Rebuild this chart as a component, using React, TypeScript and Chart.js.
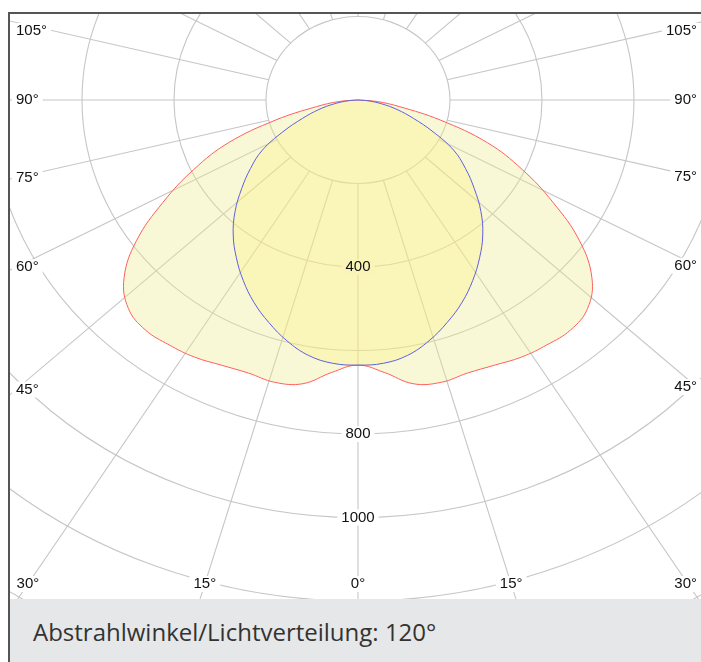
import React, { useEffect, useRef } from 'react';
import { Chart, registerables } from 'chart.js';

Chart.register(...registerables);

// ---- data (cd/klm) ----
const GAMMA = [0, 5, 10, 15, 20, 25, 30, 35, 40, 45, 50, 55, 60, 65, 70, 75, 80, 85, 90];
const C0_C180 = [635, 655, 690, 700, 696, 701, 711, 716, 719, 706, 664, 588, 489, 394, 300, 185, 92, 42, 0];
const C90_C270 = [635, 633, 621, 597, 567, 535, 499, 461, 422, 378, 330, 285, 240, 180, 128, 88, 52, 22, 0];

const RINGS = [200, 400, 600, 800, 1000, 1200, 1400, 1600];
const RING_LABELS = [400, 800, 1000];
const SPOKE_STEP = 15;
const SPOKE_LABELS = [0, 15, 30, 45, 60, 75, 90, 105];
const CAPTION = 'Abstrahlwinkel/Lichtverteilung: 120°';

// ---- layout / style ----
const X_MIN = -756.5;
const X_MAX = 745.7;
const Y_MIN = -1195.2;
const Y_MAX = 206;
const SPOKE_ASPECT = 1.072;
const GRID_COLOR = '#c6c6c6';
const LABEL_COLOR = '#111111';
const LABEL_FONT = '15px "Liberation Sans", Arial, sans-serif';

function curve(values: number[]) {
  const pts: { x: number; y: number }[] = [];
  for (let i = GAMMA.length - 1; i >= 0; i--) {
    const t = (GAMMA[i] * Math.PI) / 180;
    pts.push({ x: -values[i] * Math.sin(t), y: -values[i] * Math.cos(t) });
  }
  for (let i = 1; i < GAMMA.length; i++) {
    const t = (GAMMA[i] * Math.PI) / 180;
    pts.push({ x: values[i] * Math.sin(t), y: -values[i] * Math.cos(t) });
  }
  return pts;
}

function labelBox(ctx: CanvasRenderingContext2D, text: string, x: number, align: string, minX: number, maxX: number) {
  const w = ctx.measureText(text).width;
  let left = align === 'left' ? x : align === 'right' ? x - w : x - w / 2;
  if (left < minX) left = minX;
  if (left + w > maxX) left = maxX - w;
  return { left, w };
}

function geometry(chart: any) {
  const { chartArea: a, scales } = chart;
  const xs = scales.x;
  const ys = scales.y;
  const cx = xs.getPixelForValue(0);
  const cy = ys.getPixelForValue(0);
  const sx = Math.abs(xs.getPixelForValue(100) - cx) / 100;
  const sy = Math.abs(ys.getPixelForValue(-100) - cy) / 100;
  return { a, xs, ys, cx, cy, sx, sy, inL: a.left + 6, inR: a.right - 4, inT: a.top + 17, inB: a.top + 570 };
}

function ringLabels(chart: any) {
  const g = geometry(chart);
  return RING_LABELS.map((v) => ({ text: String(v), x: g.cx, y: g.ys.getPixelForValue(-v), align: 'center' }));
}

const polarGrid = {
  id: 'polarGrid',
  beforeDatasetsDraw(chart: any) {
    const { ctx } = chart;
    const { a, cx, cy, sx, sy, inL, inR, inT, inB } = geometry(chart);
    ctx.save();
    ctx.beginPath();
    ctx.rect(a.left, a.top, a.right - a.left, a.bottom - a.top);
    ctx.clip();
    ctx.strokeStyle = GRID_COLOR;
    ctx.lineWidth = 1.1;
    for (const r of RINGS) {
      ctx.beginPath();
      ctx.ellipse(cx, cy, r * sx, r * sy, 0, 0, Math.PI * 2);
      ctx.stroke();
    }
    const r0 = RINGS[0];
    for (let g = 0; g < 360; g += SPOKE_STEP) {
      const t = (g * Math.PI) / 180;
      const dx = Math.sin(t) * sx * SPOKE_ASPECT;
      const dy = Math.cos(t) * sy;
      const k0 = 1 / Math.hypot(dx / (r0 * sx), dy / (r0 * sy));
      const k1 = 5000;
      ctx.beginPath();
      ctx.moveTo(cx + dx * k0, cy + dy * k0);
      ctx.lineTo(cx + dx * k1, cy + dy * k1);
      ctx.stroke();
    }
    ctx.font = LABEL_FONT;
    ctx.textBaseline = 'middle';
    ctx.textAlign = 'left';
    // angle labels
    for (const g of SPOKE_LABELS) {
      const t = (g * Math.PI) / 180;
      const dx = Math.sin(t) * sx * SPOKE_ASPECT;
      const dy = Math.cos(t) * sy;
      const text = g + '°';
      const sides = g === 0 ? [1] : [-1, 1];
      for (const s of sides) {
        const edge = s < 0 ? inL : inR;
        const tSide = dx > 1e-9 ? Math.abs(edge - cx) / dx : Infinity;
        const ySide = cy + dy * tSide;
        let x: number, y: number, align: string;
        if (ySide <= inB) {
          x = edge; y = Math.max(ySide, inT); align = s < 0 ? 'left' : 'right';
        } else {
          const tb = (inB - cy) / dy;
          x = cx + s * dx * tb; y = inB; align = 'center';
        }
        const { left, w } = labelBox(ctx, text, x, align, inL, inR);
        ctx.fillStyle = '#ffffff';
        ctx.fillRect(left - 4, y - 8, w + 8, 16);
        ctx.fillStyle = LABEL_COLOR;
        ctx.fillText(text, left, y);
      }
    }
    // ring label backgrounds (text drawn after the curves)
    for (const l of ringLabels(chart)) {
      const { left, w } = labelBox(ctx, l.text, l.x, l.align, inL, inR);
      ctx.fillStyle = '#ffffff';
      ctx.fillRect(left - 4, l.y - 8, w + 8, 16);
    }
    ctx.restore();
  },
  afterDatasetsDraw(chart: any) {
    const { ctx } = chart;
    const { inL, inR } = geometry(chart);
    ctx.save();
    ctx.font = LABEL_FONT;
    ctx.textBaseline = 'middle';
    ctx.textAlign = 'left';
    ctx.fillStyle = LABEL_COLOR;
    for (const l of ringLabels(chart)) {
      const { left } = labelBox(ctx, l.text, l.x, l.align, inL, inR);
      ctx.fillText(l.text, left, l.y);
    }
    ctx.restore();
  },
};

export default function App() {
  const ref = useRef<HTMLCanvasElement | null>(null);
  useEffect(() => {
    if (!ref.current) return;
    const chart = new Chart(ref.current, {
      type: 'scatter',
      data: {
        datasets: [
          {
            label: 'C0-C180',
            data: curve(C0_C180),
            showLine: true,
            fill: 'shape',
            borderColor: 'rgb(255, 95, 95)',
            backgroundColor: 'rgba(236, 232, 140, 0.36)',
            borderWidth: 1,
            pointRadius: 0,
            tension: 0.4,
            order: 1,
          },
          {
            label: 'C90-C270',
            data: curve(C90_C270),
            showLine: true,
            fill: 'shape',
            borderColor: 'rgb(95, 95, 225)',
            backgroundColor: 'rgba(255, 238, 120, 0.32)',
            borderWidth: 1,
            pointRadius: 0,
            tension: 0.4,
            order: 0,
          },
        ],
      },
      options: {
        animation: false,
        responsive: false,
        layout: { padding: 0 },
        events: [],
        plugins: { legend: { display: false }, tooltip: { enabled: false } },
        scales: {
          x: { type: 'linear', display: false, min: X_MIN, max: X_MAX },
          y: { type: 'linear', display: false, min: Y_MIN, max: Y_MAX },
        },
      },
      plugins: [polarGrid],
    } as any);
    return () => chart.destroy();
  }, []);

  return (
    <div style={{ position: 'absolute', left: 0, top: 0, width: 701, height: 662, background: '#fff', overflow: 'hidden' }}>
      <canvas ref={ref} width={691} height={585} style={{ position: 'absolute', left: 10, top: 14, display: 'block' }} />
      <div style={{ position: 'absolute', left: 10, top: 599, width: 691, height: 63, background: '#e6e7e8' }}>
        <span style={{ position: 'absolute', left: 23, top: 21, font: '24px "Open Sans", sans-serif', lineHeight: 1, color: '#333', whiteSpace: 'nowrap' }}>
          {CAPTION}
        </span>
      </div>
      <div style={{ position: 'absolute', left: 8, top: 12, right: 0, bottom: 0, borderLeft: '2px solid #555', borderTop: '2px solid #555', pointerEvents: 'none' }} />
    </div>
  );
}
